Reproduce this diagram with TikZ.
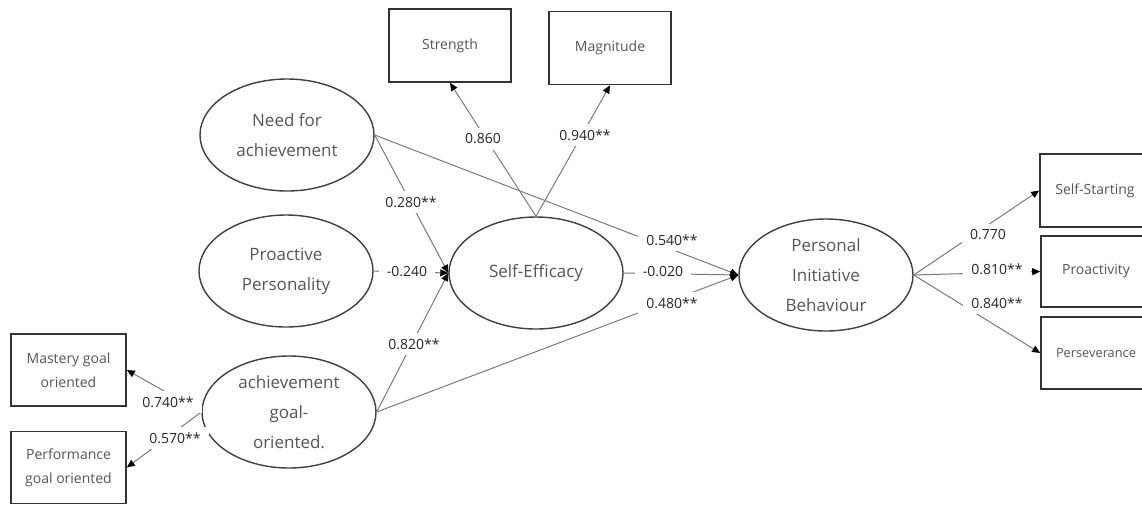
\documentclass[tikz,border=0pt]{standalone}
\usepackage{fontspec}
\setmainfont{Open Sans}
\usetikzlibrary{shapes.geometric, arrows.meta}

\definecolor{linegray}{HTML}{7A7A7A}
\definecolor{textgray}{HTML}{555555}

\begin{document}
\begin{tikzpicture}[x=50pt, y=50pt,
        latent/.style = {ellipse, draw=black!75, line width=0.7pt, minimum width=87pt, minimum height=56pt, inner sep=0pt, align=center, text=textgray, font=\fontsize{8.5}{15}\selectfont},
        indicator/.style = {rectangle, draw=black!80, line width=0.8pt, minimum width=61pt, minimum height=36.5pt, inner sep=1pt, align=center, text=textgray, font=\fontsize{7}{12}\selectfont},
        coef/.style = {fill=white, inner xsep=4pt, inner ysep=3pt, text=black!85, font=\fontsize{7}{8}\selectfont},
        effect/.style = {draw=linegray, line width=0.5pt, -{Triangle[length=4pt, width=3.5pt, color=black]}}]
        \useasboundingbox (0, 0) rectangle (11.42, -5.05);
        \clip (0, 0) rectangle (11.42, -5.05);
        \node[latent] (Need) at (2.87, -1.35) {Need for\\achievement};
        \node[latent] (Proactive) at (2.86, -2.71) {Proactive\\Personality};
        \node[latent] (Goal) at (2.89, -4.12) {achievement\\goal-\\oriented.};
        \node[latent] (Efficacy) at (5.36, -2.73) {Self-Efficacy};
        \node[latent] (Initiative) at (8.26, -2.75) {Personal\\Initiative\\Behaviour};
        \node[indicator] (Strength) at (4.50, -0.455) {Strength};
        \node[indicator] (Magnitude) at (6.10, -0.48) {Magnitude};
        \node[indicator, minimum width=57.5pt, minimum height=36pt] (Mastery) at (0.685, -3.70) {Mastery goal\\oriented};
        \node[indicator, minimum width=57.5pt, minimum height=36pt] (Performance) at (0.685, -4.675) {Performance\\goal oriented};
        \node[indicator, minimum width=55pt] (Self-Starting) at (10.95, -1.905) {Self-Starting};
        \node[indicator, minimum width=55pt, minimum height=35.5pt] (Proactivity) at (10.96, -2.715) {Proactivity};
        \node[indicator, minimum width=55pt, minimum height=36pt, font=\fontsize{6.4}{8}\selectfont] (Perseverance) at (10.96, -3.53) {Perseverance};
        \draw[effect] (Need.east) -- (Efficacy.west);
        \draw[effect] (Proactive.east) -- (Efficacy.west);
        \draw[effect] (Goal.east) -- (Efficacy.west);
        \draw[effect] (Need.east) -- (Initiative.west);
        \draw[effect] (Efficacy.east) -- (Initiative.west);
        \draw[effect] (Goal.east) -- (Initiative.west);
        \draw[effect] (Efficacy.north) -- (Strength.south);
        \draw[effect] (Efficacy.north) -- (Magnitude.south);
        \draw[effect] (Initiative.east) -- (Self-Starting.west);
        \draw[effect] (Initiative.east) -- (Proactivity.west);
        \draw[effect] (Initiative.east) -- (Perseverance.west);
        \draw[effect] (Goal.west) -- (Mastery.east);
        \draw[effect] (Goal.west) -- (Performance.east);
        \node[coef] (Need Efficacy) at (4.11, -2.02) {0.280**};
        \node[coef] (Proactive Efficacy) at (4.07, -2.72) {-0.240};
        \node[coef] (Goal Efficacy) at (4.14, -3.44) {0.820**};
        \node[coef] (Efficacy Strength) at (4.83, -1.39) {0.860};
        \node[coef] (Efficacy Magnitude) at (5.85, -1.35) {0.940**};
        \node[coef] (Need Initiative) at (6.72, -2.40) {0.540**};
        \node[coef] (Efficacy Initiative) at (6.63, -2.72) {-0.020};
        \node[coef] (Goal Initiative) at (6.72, -3.03) {0.480**};
        \node[coef] (Initiative Self-Starting) at (9.88, -2.35) {0.770};
        \node[coef] (Initiative Proactivity) at (9.97, -2.69) {0.810**};
        \node[coef] (Initiative Perseverance) at (9.97, -3.03) {0.840**};
        \node[coef] (Goal Mastery) at (1.68, -4.02) {0.740**};
        \node[coef] (Goal Performance) at (1.75, -4.38) {0.570**};
    \end{tikzpicture}
\end{document}
